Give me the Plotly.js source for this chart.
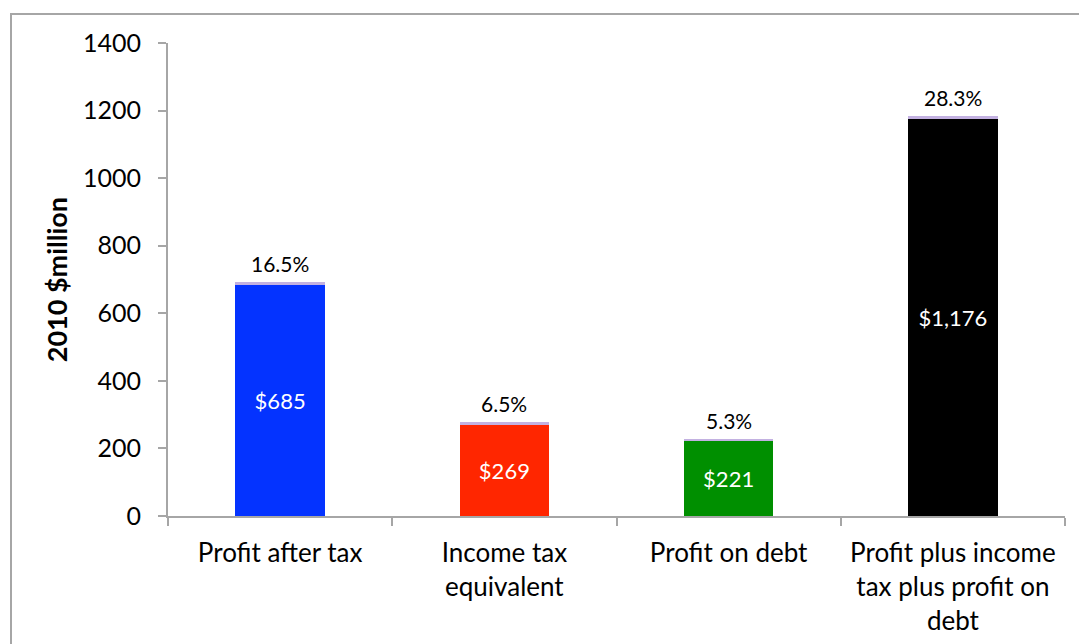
<!DOCTYPE html>
<html><head><meta charset="utf-8">
<script src="https://cdn.plot.ly/plotly-3.0.1.min.js"></script>
<style>
html,body{margin:0;padding:0;background:#fff;}
#wrap{position:relative;width:1079px;height:644px;overflow:hidden;}
#chart{position:absolute;left:0;top:0;width:1079px;height:644px;}
#frame{position:absolute;left:10px;top:13px;width:1200px;height:800px;border:2px solid #a6a6a6;pointer-events:none;}
</style></head>
<body>
<div id="wrap"><div id="chart"></div><div id="frame"></div></div>
<script>
const categories = ["Profit after tax", "Income tax<br>equivalent", "Profit on debt", "Profit plus income<br>tax plus profit on<br>debt"];
const values = [685, 269, 221, 1176];
const valueLabels = ["$685", "$269", "$221", "$1,176"];
const capValues = [8, 8, 8, 8];
const pctLabels = ["16.5%", "6.5%", "5.3%", "28.3%"];
const barColors = ["#0433ff", "#ff2600", "#008f00", "#000000"];
const tickVals = [0, 200, 400, 600, 800, 1000, 1200, 1400];
const yTitle = "2010 $million";

const font = "Lato, 'Open Sans', sans-serif";

const traces = [
  {
    type: "bar", x: categories, y: values,
    marker: {color: barColors},
    text: valueLabels, textposition: "inside", insidetextanchor: "middle",
    textfont: {color: "#ffffff", size: 22, family: font},
    hoverinfo: "none"
  },
  {
    type: "bar", x: categories, y: capValues,
    marker: {color: "#c3b1e1"},
    hoverinfo: "none"
  }
];

const annotations = categories.map((c, i) => ({
  x: c, y: values[i] + capValues[i], xref: "x", yref: "y",
  text: pctLabels[i], showarrow: false, yanchor: "bottom", yshift: 4,
  font: {size: 21, color: "#000", family: font}
}));
annotations.push({
  xref: "paper", yref: "paper", x: -0.124, y: 0.5, xanchor: "center", yanchor: "middle",
  text: "<b>" + yTitle + "</b>", textangle: -90, showarrow: false,
  font: {size: 27, color: "#000", family: font}
});

const layout = {
  width: 1079, height: 644,
  margin: {l: 168, r: 14, t: 43, b: 128},
  paper_bgcolor: "#fff", plot_bgcolor: "#fff",
  barmode: "stack", bargap: 0.6, showlegend: false,
  font: {family: font, color: "#000"},
  xaxis: {
    tickson: "boundaries", ticks: "outside", ticklen: 8, tickcolor: "#a6a6a6", tickwidth: 2,
    showline: true, linecolor: "#a6a6a6", linewidth: 2, ticklabelstandoff: 13,
    tickfont: {size: 26, family: font, color: "#000"}, automargin: false
  },
  yaxis: {
    range: [0, 1400], tickvals: tickVals, ticktext: tickVals.map(String),
    ticks: "outside", ticklen: 8, tickcolor: "#a6a6a6", tickwidth: 2,
    showline: true, linecolor: "#a6a6a6", linewidth: 2, showgrid: false, zeroline: false,
    tickfont: {size: 25, family: font, color: "#000"}, ticklabelstandoff: 12,
    automargin: false
  },
  annotations: annotations
};

Plotly.newPlot("chart", traces, layout, {displayModeBar: false, staticPlot: true});
</script>
</body></html>
